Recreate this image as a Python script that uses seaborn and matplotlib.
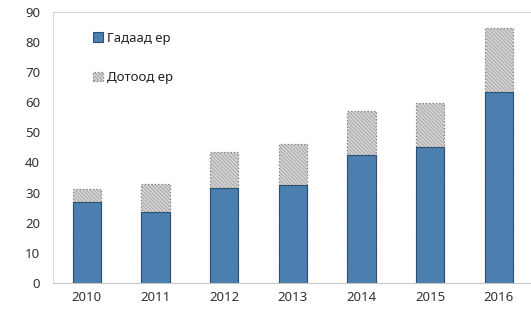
import matplotlib
matplotlib.use("Agg")
import matplotlib.pyplot as plt
import seaborn as sns
import pandas as pd

sns.set_theme(style="white")
plt.rcParams["font.family"] = ["Noto Sans", "DejaVu Sans"]
plt.rcParams["hatch.linewidth"] = 0.3

years = ["2010", "2011", "2012", "2013", "2014", "2015", "2016"]
foreign = [26.8, 23.5, 31.6, 32.6, 42.4, 45.1, 63.4]
total = [31.1, 32.9, 43.6, 46.2, 57.1, 59.7, 84.7]
labels = ["Гадаад ер", "Дотоод ер"]

df = pd.DataFrame({"year": years, "foreign": foreign, "total": total})

fig = plt.figure(figsize=(5.31, 3.12), dpi=100)
ax = fig.add_axes([0.099, 0.093, 0.905, 0.869])

sns.barplot(data=df, x="year", y="total", color="#d2d2d2", width=0.41,
            edgecolor="#7c7c7c", linewidth=0.9, linestyle=":", hatch="\\" * 9,
            saturation=1, label=labels[1], ax=ax)
sns.barplot(data=df, x="year", y="foreign", color="#4a7fb0", width=0.41,
            edgecolor="#2f4f6e", linewidth=0.8, saturation=1,
            label=labels[0], ax=ax)

ax.set_ylim(0, 90)
ax.set_xlim(-0.5, 6.5)
ax.set_yticks(range(0, 91, 10))
ax.set_xlabel("")
ax.set_ylabel("")
for s in ax.spines.values():
    s.set_color("#d9d9d9")
    s.set_linewidth(0.8)
ax.spines["bottom"].set_color("#c8c8c8")
ax.tick_params(axis="both", labelsize=9.5, colors="#333333", length=0, pad=6)
ax.tick_params(axis="y", pad=9)

# Excel-style category separator ticks
ax.set_xticks([i + 0.5 for i in range(-1, 7)], minor=True)
ax.tick_params(axis="x", which="minor", length=4, color="#c8c8c8", width=0.8)

h, l = ax.get_legend_handles_labels()
order = [l.index(labels[0]), l.index(labels[1])]
leg = ax.legend([h[i] for i in order], [l[i] for i in order],
                loc="upper left", bbox_to_anchor=(0.06, 0.97), frameon=False,
                fontsize=9.5, handlelength=0.75, handleheight=0.75,
                handletextpad=0.3, labelspacing=2.0, labelcolor="#222222")

fig.savefig("out.png", dpi=100)
